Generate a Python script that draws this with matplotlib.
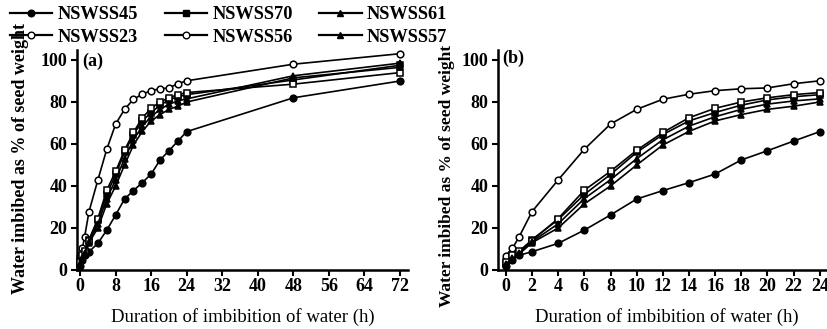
import matplotlib
matplotlib.use("Agg")
import matplotlib.pyplot as plt
from matplotlib.lines import Line2D

plt.rcParams['font.family'] = ['Liberation Serif', 'DejaVu Serif']

hours = [0, 0.5, 1, 2, 4, 6, 8, 10, 12, 14, 16, 18, 20, 22, 24, 48, 72]
NSWSS45 = [2, 5, 7, 8.7, 12.7, 19, 26.2, 33.8, 37.8, 41.6, 45.7, 52.4, 56.8, 61.4, 65.9, 82, 90]
NSWSS23 = [6.8, 10.3, 15.6, 27.8, 42.9, 57.5, 69.5, 76.5, 81.3, 83.7, 85.4, 86.3, 86.7, 88.7, 90.1, 98, 103]
NSWSS56 = [4, 7, 9, 14, 24.5, 38, 47, 57, 65.5, 72.5, 77, 80, 82, 83.5, 84.5, 88.5, 94]
NSWSS70 = [3.5, 6, 8.5, 14.5, 24, 36, 45.5, 56, 64.5, 71, 75, 78.5, 81, 82.5, 83.5, 90.5, 97.5]
NSWSS61 = [3, 5.5, 8, 13.5, 22, 34, 43, 53, 62, 68.5, 73, 76.5, 79, 80.5, 81.5, 92.5, 98.5]
NSWSS57 = [2.5, 5, 7.5, 13, 20, 31.5, 40, 50, 59.5, 66, 71, 74, 76.5, 78, 80, 91.5, 96.5]

series = [
    ("NSWSS45", NSWSS45, 'o', 'black'),
    ("NSWSS23", NSWSS23, 'o', 'white'),
    ("NSWSS70", NSWSS70, 's', 'black'),
    ("NSWSS56", NSWSS56, 's', 'white'),
    ("NSWSS61", NSWSS61, '^', 'black'),
    ("NSWSS57", NSWSS57, '^', 'black'),
]
legend_markers = {"NSWSS45": ('o', 'black'), "NSWSS23": ('o', 'white'),
                  "NSWSS70": ('s', 'black'), "NSWSS56": ('o', 'white'),
                  "NSWSS61": ('^', 'black'), "NSWSS57": ('^', 'black')}

W, H = 827, 329
fig = plt.figure(figsize=(W / 100, H / 100), dpi=100)

def px_axes(x0, y_top, x1, y_bot):
    return [x0 / W, 1 - y_bot / H, (x1 - x0) / W, (y_bot - y_top) / H]

ax1 = fig.add_axes(px_axes(77, 49.5, 408, 270))
ax2 = fig.add_axes(px_axes(498, 49.5, 827, 270))

lw = 1.2
ms = 4.8
for ax, xmax in ((ax1, 73.8), (ax2, 24.55)):
    for name, vals, mk, fc in series:
        xs = [h for h in hours if h <= xmax]
        ys = vals[:len(xs)]
        ax.plot(xs, ys, color='black', lw=lw, marker=mk, markersize=ms,
                markerfacecolor=fc, markeredgecolor='black', markeredgewidth=1.1,
                clip_on=False, zorder=3)
    ax.set_ylim(0, 105)
    ax.set_yticks([0, 20, 40, 60, 80, 100])
    for s in ('top', 'right'):
        ax.spines[s].set_visible(False)
    for s in ('left', 'bottom'):
        ax.spines[s].set_linewidth(1.8)
    ax.tick_params(axis='both', direction='out', length=4.5, width=1.5, pad=2.5,
                   labelsize=13)

ax1.set_xlim(-0.7, 73.8)
ax1.set_xticks([0, 8, 16, 24, 32, 40, 48, 56, 64, 72])
ax2.set_xlim(-0.6, 24.55)
ax2.set_xticks(list(range(0, 25, 2)))
for ax in (ax1, ax2):
    ax.tick_params(axis='x', pad=1.5)
    for lab in ax.get_xticklabels() + ax.get_yticklabels():
        lab.set_fontweight('bold')

ax1.text(0.015, 0.948, "(a)", transform=ax1.transAxes, fontsize=13,
         fontweight='bold', ha='left', va='center')
ax2.text(0.012, 0.961, "(b)", transform=ax2.transAxes, fontsize=13,
         fontweight='bold', ha='left', va='center')

ylab = "Water imbibed as % of seed weight"
xlab = "Duration of imbibition of water (h)"
fig.text(21 / W, 1 - 159 / H, ylab, rotation=90, fontsize=13, fontweight='bold',
         ha='center', va='center')
fig.text(447 / W, 1 - 176 / H, ylab, rotation=90, fontsize=12.5, fontweight='bold',
         ha='center', va='center')
fig.text(242.5 / W, 1 - 316.7 / H, xlab, fontsize=13.5, ha='center', va='center')
fig.text(666.7 / W, 1 - 317 / H, xlab, fontsize=13.5, ha='center', va='center')

order = ["NSWSS45", "NSWSS23", "NSWSS70", "NSWSS56", "NSWSS61", "NSWSS57"]
handles = []
for name in order:
    mk, fc = legend_markers[name]
    handles.append(Line2D([0], [0], color='black', lw=1.6, marker=mk, markersize=ms,
                          markerfacecolor=fc, markeredgecolor='black'))
fig.legend(handles, order, loc='upper left', bbox_to_anchor=(10 / W, 1 - 6 / H),
           ncol=3, frameon=False, borderpad=0, borderaxespad=0,
           handlelength=2.3, handletextpad=0.3, columnspacing=1.45,
           labelspacing=0.3, prop={'weight': 'bold', 'size': 13.2})

fig.savefig("out.png", dpi=100)
